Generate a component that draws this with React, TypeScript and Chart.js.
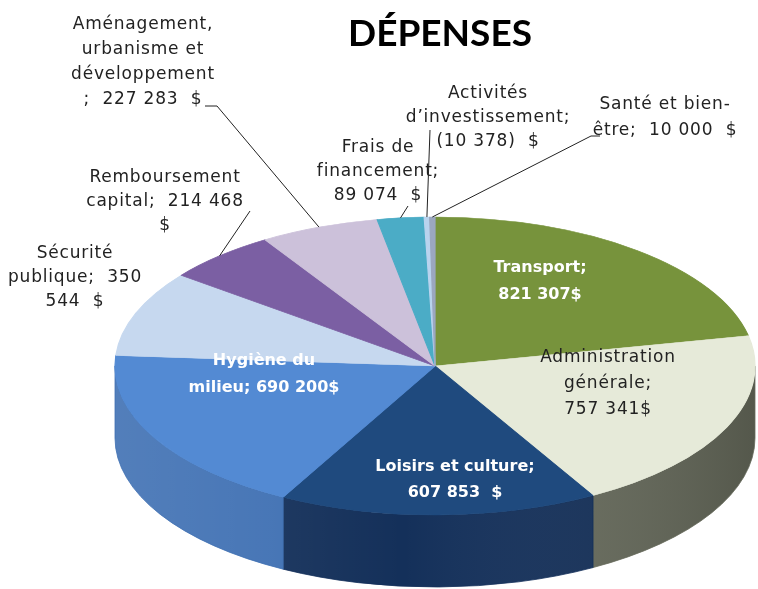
import React, { useEffect, useRef } from 'react';
import { Chart, registerables } from 'chart.js';

Chart.register(...registerables);

// ---------- data ----------
const categories = [
  'Transport',
  'Administration générale',
  'Loisirs et culture',
  'Hygiène du milieu',
  'Sécurité publique',
  'Remboursement capital',
  'Aménagement, urbanisme et développement',
  'Frais de financement',
  'Activités d\u2019investissement',
  'Santé et bien-être',
];
const values = [821307, 757341, 607853, 690200, 350544, 214468, 227283, 89074, -10378, 10000];

const labelLines = [
  ['Transport;', '821 307$'],
  ['Administration', 'générale;', '757 341$'],
  ['Loisirs et culture;', '607 853  $'],
  ['Hygiène du', 'milieu; 690 200$'],
  ['Sécurité', 'publique;  350', '544  $'],
  ['Remboursement', 'capital;  214 468', '$'],
  ['Aménagement,', 'urbanisme et', 'développement', ';  227 283  $'],
  ['Frais de', 'financement;', '89 074  $'],
  ['Activités', 'd\u2019investissement;', '(10 378)  $'],
  ['Santé et bien-', 'être;  10 000  $'],
];

const chartTitle = 'DÉPENSES';

// ---------- styles ----------
const topColors = [
  '#77933C', '#E6EAD9', '#1F4A7E', '#538AD3', '#C6D8EF',
  '#7B5FA3', '#CCC1DA', '#4BACC6', '#B9D3EE', '#9BA7C0',
];
const wallColors = [
  '#5A7030', '#676B5C', '#14305A', '#3F70B3', '#9AAFCB',
  '#5E4880', '#A69BB5', '#3A8AA0', '#93AACB', '#7A8499',
];

// ---------- layout ----------
const CX = 435, CY = 366, RX = 320, RY = 149, DEPTH = 72;

type LabelPos = { x: number; y: number; lh: number; kind: 'inBold' | 'inDark' | 'out'; leader?: number[][] };
const labelLayout: LabelPos[] = [
  { x: 540, y: 268, lh: 27, kind: 'inBold' },
  { x: 608, y: 358, lh: 26, kind: 'inDark' },
  { x: 455, y: 467, lh: 26, kind: 'inBold' },
  { x: 264, y: 361, lh: 27, kind: 'inBold' },
  { x: 75, y: 254, lh: 24, kind: 'out' },
  { x: 165, y: 178, lh: 24, kind: 'out', leader: [[250, 211]] },
  { x: 143, y: 25, lh: 25, kind: 'out', leader: [[205, 106], [217, 106]] },
  { x: 378, y: 148, lh: 24, kind: 'out', leader: [[408, 206]] },
  { x: 488, y: 94, lh: 24, kind: 'out', leader: [[430, 130]] },
  { x: 665, y: 105, lh: 26, kind: 'out', leader: [[600, 136], [591, 136]] },
];

const pie3d = {
  id: 'pie3d',
  beforeDatasetsDraw(chart: any) {
    const ctx: CanvasRenderingContext2D = chart.ctx;
    const arcs = chart.getDatasetMeta(0).data as any[];
    if (!arcs.length) return;
    // side walls (front half only: canvas angles 0..PI)
    arcs.forEach((arc, i) => {
      const s = Math.max(arc.startAngle, 0);
      const e = Math.min(arc.endAngle, Math.PI);
      if (e <= s) return;
      ctx.save();
      ctx.beginPath();
      ctx.ellipse(CX, CY, RX, RY, 0, s, e);
      ctx.ellipse(CX, CY + DEPTH, RX, RY, 0, e, s, true);
      ctx.closePath();
      ctx.fillStyle = wallColors[i];
      ctx.fill();
      const g = ctx.createLinearGradient(CX - RX, 0, CX + RX, 0);
      g.addColorStop(0, 'rgba(255,255,255,0.10)');
      g.addColorStop(0.45, 'rgba(255,255,255,0.0)');
      g.addColorStop(1, 'rgba(0,0,0,0.18)');
      ctx.fillStyle = g;
      ctx.fill();
      ctx.strokeStyle = wallColors[i];
      ctx.lineWidth = 0.8;
      ctx.stroke();
      ctx.restore();
    });
    // map the library's circular pie onto the ellipse top
    const { x, y, outerRadius } = arcs[0];
    ctx.save();
    ctx.translate(CX, CY);
    ctx.scale(RX / outerRadius, RY / outerRadius);
    ctx.translate(-x, -y);
  },
  afterDatasetsDraw(chart: any) {
    const ctx: CanvasRenderingContext2D = chart.ctx;
    ctx.restore();
    const arcs = chart.getDatasetMeta(0).data as any[];
    ctx.save();
    ctx.textAlign = 'center';
    ctx.textBaseline = 'middle';
    arcs.forEach((arc, i) => {
      const L = labelLayout[i];
      const lines = labelLines[i];
      if (!L || !lines) return;
      if (L.kind === 'inBold') {
        ctx.font = 'bold 16px "DejaVu Sans"';
        ctx.fillStyle = '#FFFFFF';
        (ctx as any).letterSpacing = '0px';
      } else {
        ctx.font = '17px "DejaVu Sans"';
        ctx.fillStyle = '#222222';
        (ctx as any).letterSpacing = '0.8px';
      }
      lines.forEach((t, k) => ctx.fillText(t, L.x, L.y + k * L.lh));
      if (L.leader) {
        const mid = (arc.startAngle + arc.endAngle) / 2;
        const ex = CX + RX * Math.cos(mid);
        const ey = CY + RY * Math.sin(mid);
        ctx.beginPath();
        ctx.moveTo(L.leader[0][0], L.leader[0][1]);
        for (let k = 1; k < L.leader.length; k++) ctx.lineTo(L.leader[k][0], L.leader[k][1]);
        ctx.lineTo(ex, ey);
        ctx.strokeStyle = '#222';
        ctx.lineWidth = 1;
        ctx.stroke();
      }
    });
    ctx.restore();
  },
};

export default function App() {
  const ref = useRef<HTMLCanvasElement>(null);
  useEffect(() => {
    const chart = new Chart(ref.current as HTMLCanvasElement, {
      type: 'pie',
      data: {
        labels: categories,
        datasets: [
          {
            data: values,
            backgroundColor: topColors,
            borderColor: topColors,
            borderWidth: 1,
            clip: false as any,
          },
        ],
      },
      options: {
        animation: false,
        responsive: false,
        devicePixelRatio: 1,
        events: [],
        layout: { padding: { left: 122, right: 0, top: 0, bottom: 0 } },
        plugins: {
          legend: { display: false },
          tooltip: { enabled: false },
          title: {
            display: true,
            text: chartTitle,
            color: '#000000',
            font: { family: 'Lato', size: 37, weight: 'bold' },
            padding: { top: 12, bottom: 10 },
          },
        },
      },
      plugins: [pie3d],
    });
    return () => chart.destroy();
  }, []);
  return (
    <div style={{ position: 'absolute', left: 0, top: 0, width: 758, height: 589, background: '#ffffff' }}>
      <canvas ref={ref} width={758} height={589} style={{ display: 'block' }} />
    </div>
  );
}
